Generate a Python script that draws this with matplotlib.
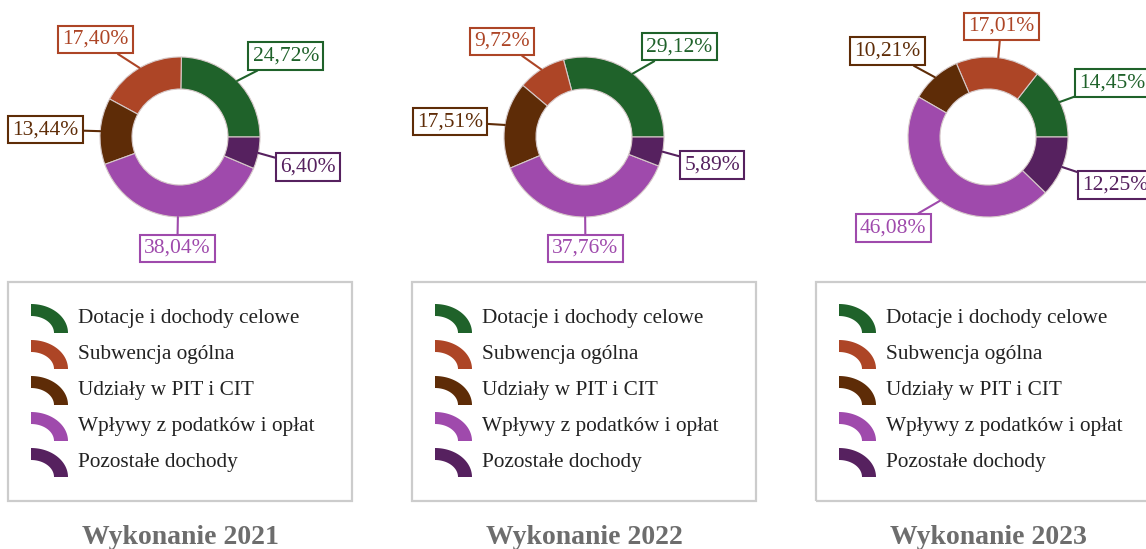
import numpy as np
import matplotlib
matplotlib.use("Agg")
import matplotlib.pyplot as plt
from matplotlib.patches import Rectangle, Polygon

plt.rcParams['font.family'] = ['Liberation Serif', 'DejaVu Serif']

# data
categories = ['Dotacje i dochody celowe', 'Subwencja ogólna', 'Udziały w PIT i CIT',
              'Wpływy z podatków i opłat', 'Pozostałe dochody']
colors = ['#1f622a', '#ad4526', '#5e2c07', '#9f4aac', '#56215f']
years = ['2021', '2022', '2023']
share_2021 = [24.72, 17.40, 13.44, 38.04, 6.40]
share_2022 = [29.12, 9.72, 17.51, 37.76, 5.89]
share_2023 = [14.45, 17.01, 10.21, 46.08, 12.25]
shares = [share_2021, share_2022, share_2023]

W, H = 1146, 549
fig = plt.figure(figsize=(W / 100, H / 100), dpi=100)
ax = fig.add_axes([0, 0, 1, 1])

R = 80          # outer radius in px
RING = 32       # ring width in px
CY = 137        # donut centre (from top)


def pct(v):
    return ('%.2f' % v).replace('.', ',') + '%'


for i, (year, vals) in enumerate(zip(years, shares)):
    cx = 180 + 404 * i
    cy = H - CY
    wedges, _ = ax.pie(vals, colors=colors, center=(cx, cy), radius=R,
                       startangle=0, counterclock=True,
                       wedgeprops=dict(width=RING, edgecolor='#d6c9c9', linewidth=0.8))

    # boxed percentage labels with leader lines
    for w, v, c in zip(wedges, vals, colors):
        th = np.deg2rad((w.theta1 + w.theta2) / 2)
        co, si = np.cos(th), np.sin(th)
        ha = 'center' if abs(co) < 0.3 else ('left' if co > 0 else 'right')
        va = 'center' if abs(si) < 0.17 else ('bottom' if si > 0 else 'top')
        ax.annotate(pct(v), xy=(cx + R * co, cy + R * si),
                    xytext=(cx + (R + 22) * co, cy + (R + 22) * si),
                    ha=ha, va=va, fontsize=15.5, color=c,
                    bbox=dict(boxstyle='square,pad=0.2', fc='white', ec=c, lw=1.5),
                    arrowprops=dict(arrowstyle='-', color=c, lw=1.5,
                                    shrinkA=0, shrinkB=0))

    # legend box
    ax.add_patch(Rectangle((cx - 172, H - 501), 344, 219, fill=False,
                           ec='#cccccc', lw=1.6))
    t = np.linspace(0, np.pi / 2, 30)
    for k, (name, c) in enumerate(zip(categories, colors)):
        ry = H - (318 + 36 * k)
        ox, oy = cx - 149, ry - 15
        outer = np.column_stack([ox + 37 * np.cos(t), oy + 29 * np.sin(t)])
        inner = np.column_stack([ox + 23 * np.cos(t[::-1]), oy + 17 * np.sin(t[::-1])])
        ax.add_patch(Polygon(np.vstack([outer, inner]), closed=True, fc=c, ec='none'))
        ax.text(cx - 102, ry, name, ha='left', va='center', fontsize=15.3, color='#222222')

    ax.text(cx, H - 537, 'Wykonanie ' + year, ha='center', va='center',
            fontsize=20, fontweight='bold', color='#6d6d6d')

ax.set_xlim(0, W)
ax.set_ylim(0, H)
ax.set_aspect('auto')
ax.axis('off')

fig.savefig('out.png', dpi=100)
